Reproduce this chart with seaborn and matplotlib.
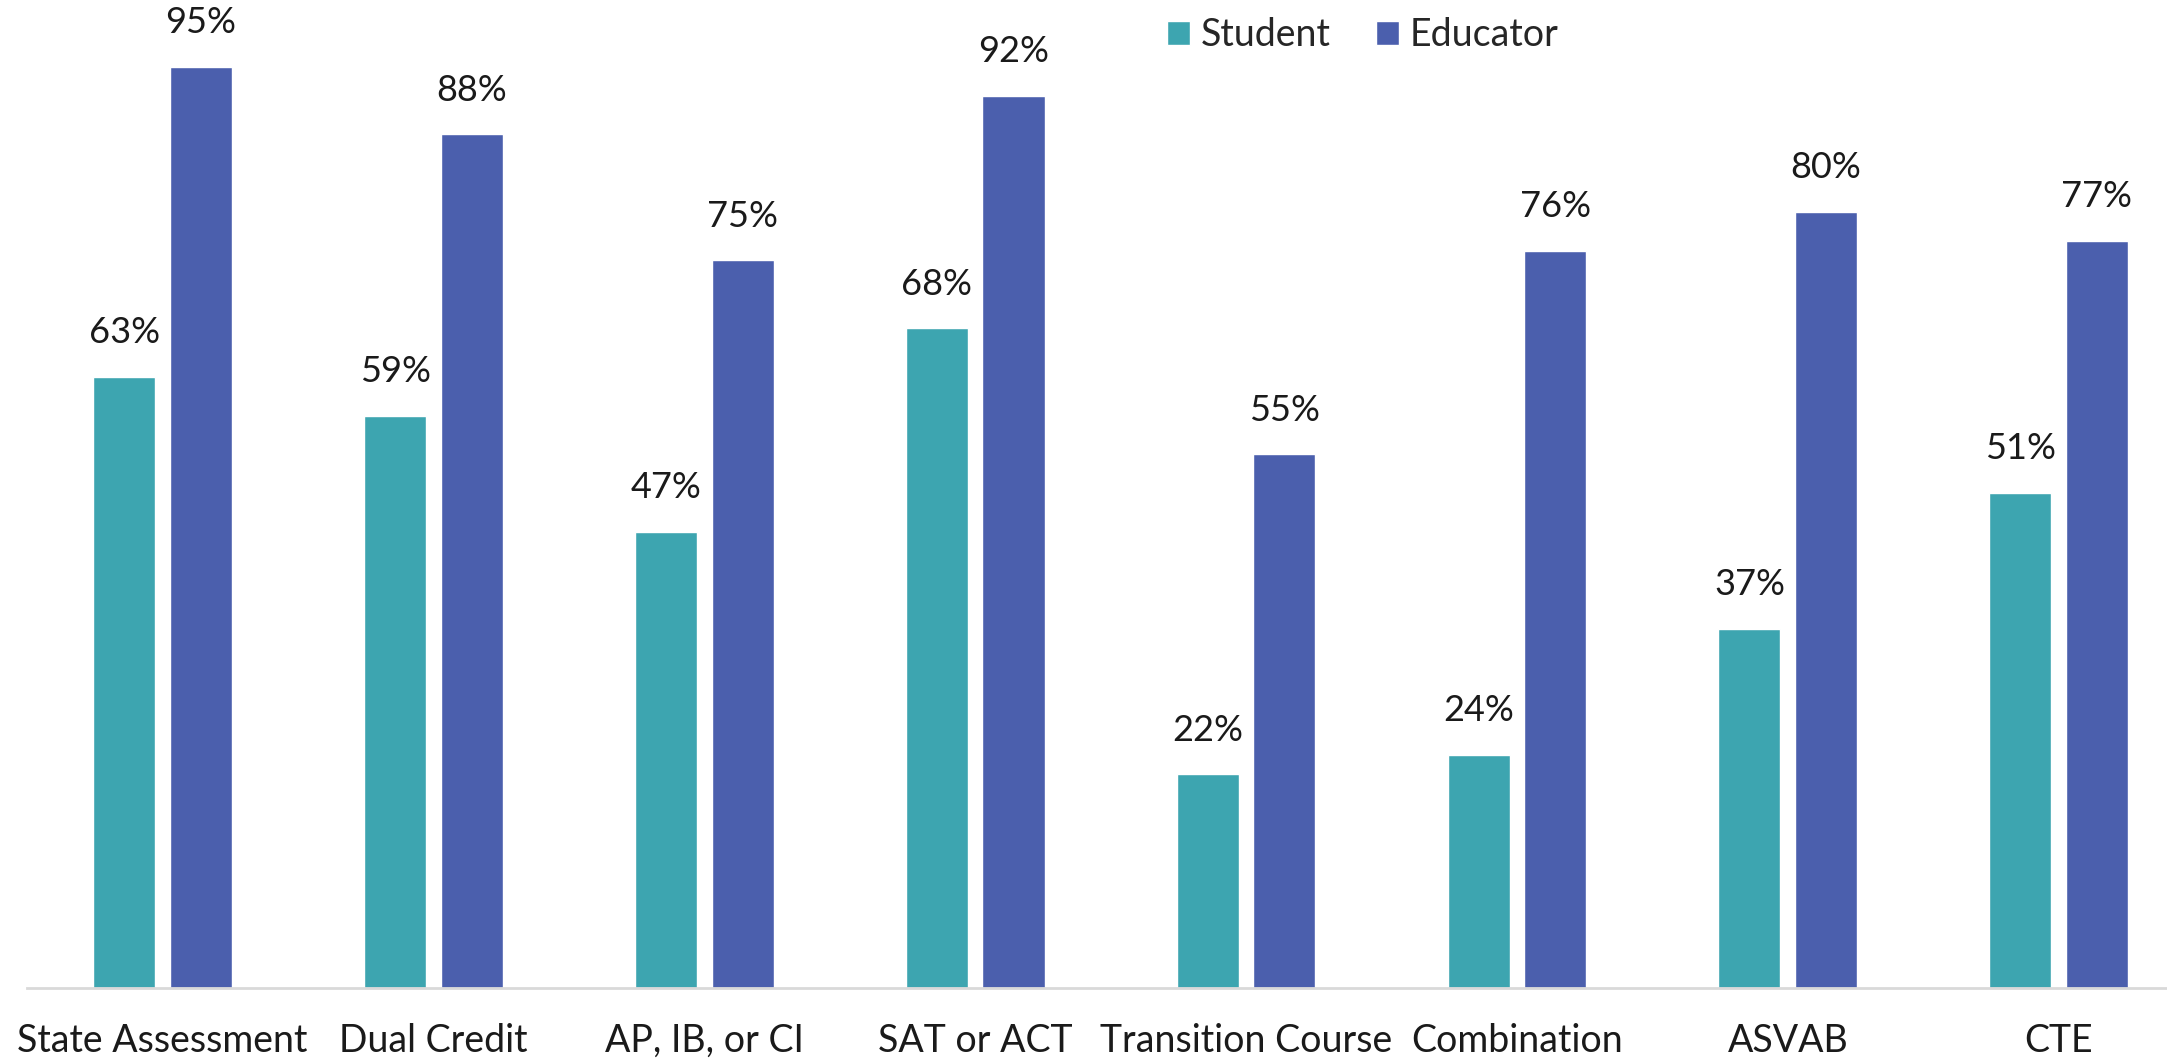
import pandas as pd
import matplotlib
matplotlib.use("Agg")
import matplotlib.pyplot as plt
import seaborn as sns
from matplotlib.patches import Patch

# Chart data
categories = ["State Assessment", "Dual Credit", "AP, IB, or CI", "SAT or ACT",
              "Transition Course", "Combination", "ASVAB", "CTE"]
student = [63, 59, 47, 68, 22, 24, 37, 51]
educator = [95, 88, 75, 92, 55, 76, 80, 77]
groups = ["Student", "Educator"]
colors = {"Student": "#3DA5B0", "Educator": "#4B5FAD"}

df = pd.DataFrame({
    "Category": categories * 2,
    "Group": ["Student"] * len(categories) + ["Educator"] * len(categories),
    "Value": student + educator,
})

sns.set_style("white")
plt.rcParams["font.family"] = ["Lato", "DejaVu Sans"]

fig = plt.figure(figsize=(21.67, 10.61), dpi=100)
ax = fig.add_axes([0.0125, 0.069, 0.9875, 0.914])

sns.barplot(data=df, x="Category", y="Value", hue="Group", hue_order=groups,
            palette=colors, width=0.566, gap=0.19, ax=ax, legend=False,
            saturation=1)

# value labels above each bar
for container in ax.containers:
    ax.bar_label(container, labels=[f"{v:.0f}%" for v in container.datavalues],
                 padding=20, fontsize=26, color="#1a1a1a")

ax.set_xlim(-0.5, 7.4)
ax.set_ylim(0, 100)
ax.set_xlabel("")
ax.set_ylabel("")
ax.set_yticks([])
ax.tick_params(axis="x", length=0, pad=25, labelsize=27, labelcolor="#1a1a1a")

for side in ["top", "right", "left"]:
    ax.spines[side].set_visible(False)
ax.spines["bottom"].set_color("#D9D9D9")
ax.spines["bottom"].set_linewidth(2)

handles = [Patch(facecolor=colors[g], label=g) for g in groups]
fig.legend(handles=handles, loc="center", bbox_to_anchor=(0.629, 0.967), ncol=2,
           frameon=False, fontsize=27, handlelength=0.6, handleheight=0.6,
           handletextpad=0.3, columnspacing=1.2)

fig.savefig("out.png", dpi=100)
